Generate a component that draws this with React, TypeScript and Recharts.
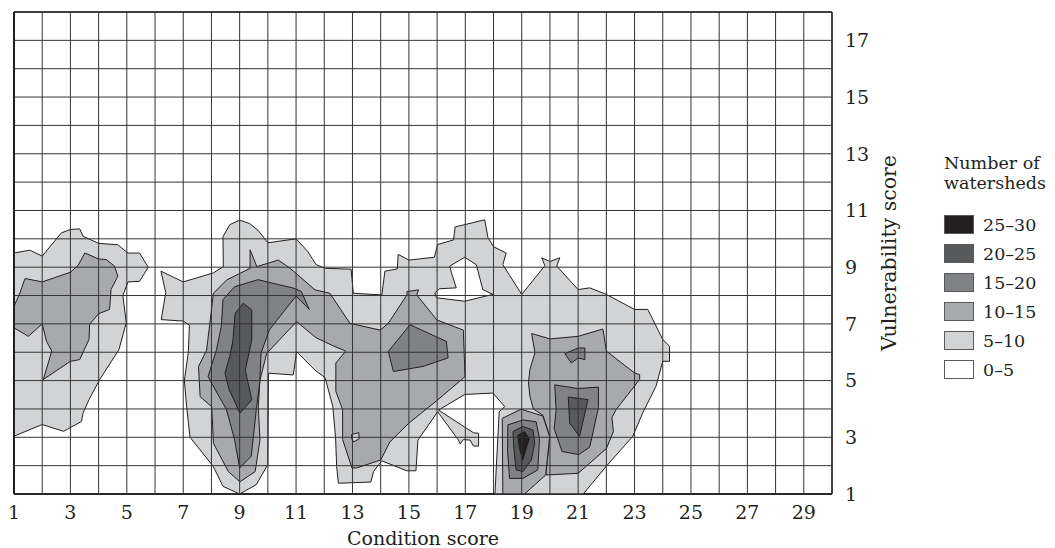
import React from "react";
import {
  ScatterChart,
  Scatter,
  XAxis,
  YAxis,
  CartesianGrid,
  ReferenceLine,
} from "recharts";

type Pt = [number, number];

const X_TICKS = [1, 2, 3, 4, 5, 6, 7, 8, 9, 10, 11, 12, 13, 14, 15, 16, 17, 18, 19, 20, 21, 22, 23, 24, 25, 26, 27, 28, 29, 30];
const Y_TICKS = [1, 2, 3, 4, 5, 6, 7, 8, 9, 10, 11, 12, 13, 14, 15, 16, 17, 18];

const LEVEL_LABELS = ["25–30", "20–25", "15–20", "10–15", "5–10", "0–5"];
const LEVEL_COLORS = ["#231f20", "#58595b", "#808285", "#a7a9ac", "#d1d3d4", "#ffffff"];

// contour outlines, in (condition score, vulnerability score)
const leftLight: Pt[] = [
  [1, 9.5], [1.56, 9.6], [2, 9.39], [2.68, 10.21], [3, 10.33], [3.33, 10.35], [3.45, 10.09], [4, 9.84],
  [4.68, 9.79], [5.04, 9.5], [5.45, 9.5], [5.76, 9.0], [5.45, 8.5], [5.04, 8.48], [4.86, 8.0], [4.98, 7.04],
  [4.72, 6.09], [4.04, 5.04], [3.66, 4.33], [3.45, 3.86], [3.39, 3.56], [2.76, 3.21], [2, 3.45], [1, 3.04],
];
const leftMid: Pt[] = [
  [1, 7.62], [1.21, 8.09], [1.39, 8.6], [2, 8.48], [3, 8.82], [3.27, 9.06], [3.51, 9.5], [4, 9.29],
  [4.27, 9.27], [4.56, 9.04], [4.68, 8.68], [4.44, 8.21], [4.39, 7.51], [4, 7.36], [3.68, 6.98], [3.66, 6.45],
  [3.33, 5.74], [3, 5.68], [2.04, 5.04], [2.34, 6.04], [2.15, 6.39], [2, 7.0], [1.51, 6.56], [1, 6.86],
];
const mainLight: Pt[] = [
  [6.22, 7.15], [6.38, 8.1], [6.21, 8.86], [7.0, 8.48], [8.07, 8.8], [8.42, 9.02], [8.41, 10.08], [8.65, 10.5],
  [9.0, 10.66], [9.35, 10.54], [9.65, 10.3], [10.0, 9.86], [11.0, 10.0], [11.41, 9.56], [11.71, 9.09],
  [12.03, 8.96], [12.95, 8.93], [13.03, 8.08], [14.04, 8.02], [14.15, 8.86], [14.59, 8.94], [14.62, 9.45],
  [15.0, 9.25], [15.9, 9.35], [16.02, 9.8], [16.58, 9.96], [16.64, 10.42], [17.69, 10.67], [17.8, 10.05],
  [18.0, 9.72], [18.45, 9.5], [18.33, 9.09], [19.0, 8.04], [19.82, 9.05], [19.71, 9.33], [20.0, 9.2],
  [20.35, 9.33], [20.24, 9.04], [21.0, 8.21], [21.41, 8.27], [22.0, 8.04], [23.0, 7.51], [23.47, 7.51],
  [24.0, 6.45], [24.24, 6.21], [24.24, 5.68], [24.0, 5.68], [23.76, 4.8], [23.29, 3.86], [22.94, 3.04],
  [22.0, 1.98], [21.18, 1.0], [18.05, 1.0], [18.2, 3.9], [18.4, 4.08], [17.98, 4.56], [16.98, 4.51],
  [16.05, 3.96], [17.29, 3.16], [17.47, 3.14], [17.47, 2.69], [17.29, 2.69], [17.17, 2.9], [16.93, 2.92],
  [16.82, 2.76], [16.76, 2.9], [16.02, 3.9], [15.32, 2.9], [15.25, 1.82], [14.92, 1.82], [14.04, 2.17],
  [13.75, 1.8], [13.65, 1.42], [12.5, 1.38], [12.44, 1.96], [12.4, 3.0], [12.3, 4.1], [12.03, 5.1],
  [11.67, 5.37], [11.02, 6.02], [10.9, 5.2], [10.02, 5.26], [10.0, 2.04], [9.59, 1.33], [9.0, 1.0],
  [8.41, 1.27], [8.06, 1.98], [7.24, 3.0], [7.12, 4.08], [7.04, 5.0], [7.18, 6.0], [7.22, 6.95], [7.0, 7.1],
];
const hole17: Pt[] = [
  [16.45, 9.04], [16.98, 9.35], [17.39, 9.09], [17.62, 8.21], [17.98, 8.04], [16.98, 7.8], [15.98, 7.92],
  [15.92, 8.09], [16.09, 8.24], [16.68, 8.27], [16.51, 8.8],
];
const midMid: Pt[] = [
  [9.01, 1.43], [8.6, 1.79], [8.07, 2.79], [8.01, 4.08], [7.6, 4.43], [7.54, 5.49], [7.83, 6.08], [8.07, 8.08],
  [8.54, 8.55], [9.37, 8.96], [9.37, 9.61], [9.61, 9.02], [10.37, 9.25], [10.79, 8.96], [11.67, 8.2],
  [12.2, 8.08], [12.91, 7.02], [13.98, 6.78], [14.27, 7.02], [14.93, 8.02], [14.93, 8.14], [15.34, 8.2],
  [15.28, 8.02], [15.99, 7.14], [16.93, 6.78], [16.99, 5.14], [16.0, 4.3], [15.0, 3.5], [14.33, 2.84],
  [14.0, 2.2], [13.15, 1.92], [12.98, 1.92], [12.65, 2.92], [12.65, 3.98], [12.41, 4.62], [12.41, 5.62],
  [12.76, 6.04], [12.35, 6.21], [11.71, 6.51], [11.02, 7.08], [9.96, 5.96], [9.72, 5.02], [9.66, 4.08],
  [9.72, 2.9], [9.55, 1.79],
];
const spot13: Pt[] = [[12.97, 3.1], [13.22, 3.16], [13.24, 2.95], [13.05, 2.84], [12.97, 2.95]];
const nine15: Pt[] = [
  [9.0, 1.92], [9.41, 2.33], [9.59, 3.98], [9.71, 4.92], [9.76, 5.98], [10.06, 6.8], [11.0, 7.98],
  [11.47, 7.51], [11.18, 8.15], [10.88, 8.27], [10.35, 8.39], [9.65, 8.56], [8.82, 8.31], [8.41, 7.86],
  [8.35, 6.92], [8.18, 6.09], [7.88, 5.15], [8.0, 4.92], [8.53, 3.98], [8.82, 2.92],
];
const nine20: Pt[] = [
  [9.13, 7.73], [9.43, 7.49], [9.43, 6.43], [9.2, 5.37], [9.43, 4.32], [9.01, 3.85], [8.62, 4.7],
  [8.48, 5.26], [8.66, 5.9], [8.76, 6.4], [8.84, 7.37],
];
const fifteen15: Pt[] = [[14.27, 6.03], [15.04, 6.97], [16.33, 6.38], [16.39, 5.8], [15.5, 5.5], [14.45, 5.32]];
const rightMid: Pt[] = [
  [19.35, 6.66], [20.0, 6.47], [21.0, 6.56], [21.88, 6.82], [22.0, 6.04], [23.0, 5.27], [23.18, 5.21],
  [23.18, 5.04], [22.35, 3.98], [22.2, 3.7], [22.25, 3.2], [22.0, 2.6], [21.0, 1.73], [19.85, 1.67],
  [20.0, 3.02], [19.75, 3.78], [19.41, 4.0], [19.29, 4.45], [19.24, 4.92], [19.29, 5.39], [19.47, 5.98],
];
const nineteen10: Pt[] = [[18.33, 1.0], [18.31, 3.67], [18.98, 3.99], [19.75, 3.75], [19.99, 3.02], [19.85, 1.67], [19.1, 1.0]];
const nineteen15: Pt[] = [[18.51, 3.44], [19.04, 3.61], [19.51, 3.55], [19.63, 2.96], [19.57, 1.85], [19.04, 1.55], [18.57, 1.55], [18.5, 2.5]];
const nineteen20: Pt[] = [[18.69, 3.2], [19.04, 3.38], [19.4, 3.26], [19.46, 2.79], [19.34, 2.2], [19.04, 1.79], [18.8, 1.85], [18.72, 2.6]];
const nineteen25: Pt[] = [[18.86, 3.08], [19.1, 3.2], [19.28, 2.96], [19.16, 2.61], [19.04, 2.2], [18.92, 2.61]];
const twentyOne15: Pt[] = [
  [20.17, 4.85], [20.99, 4.72], [21.72, 4.77], [21.72, 4.05], [21.41, 2.65], [21.02, 2.39], [20.43, 2.5],
  [20.15, 3.3], [20.22, 3.96],
];
const twentyOne20: Pt[] = [[20.65, 4.42], [21.35, 4.33], [21.05, 3.03], [20.7, 3.5]];
const twentyOneSpot: Pt[] = [[20.53, 5.95], [21.0, 6.15], [21.24, 6.15], [21.24, 5.74], [21.0, 5.8], [20.76, 5.62]];

// drawing order, with the level index of each fill
const SHAPES: { pts: Pt[]; level: number }[] = [
  { pts: leftLight, level: 4 },
  { pts: leftMid, level: 3 },
  { pts: mainLight, level: 4 },
  { pts: hole17, level: 5 },
  { pts: midMid, level: 3 },
  { pts: spot13, level: 4 },
  { pts: nine15, level: 2 },
  { pts: nine20, level: 1 },
  { pts: fifteen15, level: 2 },
  { pts: rightMid, level: 3 },
  { pts: nineteen10, level: 3 },
  { pts: nineteen15, level: 2 },
  { pts: nineteen20, level: 1 },
  { pts: nineteen25, level: 0 },
  { pts: twentyOne15, level: 2 },
  { pts: twentyOne20, level: 1 },
  { pts: twentyOneSpot, level: 2 },
];

const INK = "#231f20";
const FONT = 19;

const closed = (pts: Pt[]) => [...pts, pts[0]].map(([x, y]) => ({ x, y }));
const oddOnly = (v: number) => (v % 2 === 1 ? String(v) : "");

export default function App() {
  return (
    <div
      style={{
        position: "relative",
        width: 1039,
        height: 540,
        fontFamily: '"DejaVu Serif", serif',
        color: INK,
      }}
    >
      <ScatterChart width={1039} height={540} margin={{ top: 4, right: 140, bottom: 0, left: 6 }}>
        <XAxis
          type="number"
          dataKey="x"
          domain={[1, 30]}
          ticks={X_TICKS}
          interval={0}
          tickFormatter={oddOnly}
          tickLine={false}
          tickSize={0}
          tickMargin={12}
          height={54}
          axisLine={{ stroke: INK, strokeWidth: 2 }}
          tick={{ fill: INK, fontSize: FONT }}
          label={{ value: "Condition score", position: "insideBottom", offset: 3, fill: INK, fontSize: FONT }}
        />
        <YAxis
          type="number"
          dataKey="y"
          orientation="right"
          domain={[1, 18]}
          ticks={Y_TICKS}
          interval={0}
          tickFormatter={oddOnly}
          tickLine={false}
          tickSize={0}
          tickMargin={13}
          width={75}
          axisLine={{ stroke: INK, strokeWidth: 1.5 }}
          tick={{ fill: INK, fontSize: FONT, textAnchor: "start" }}
          label={{ value: "Vulnerability score", angle: -90, position: "center", dx: 19, fill: INK, fontSize: 20.5 }}
        />

        {SHAPES.map((s, i) => (
          <Scatter
            key={i}
            data={closed(s.pts)}
            isAnimationActive={false}
            legendType="none"
            line={{ fill: LEVEL_COLORS[s.level], stroke: INK, strokeWidth: 1, strokeLinejoin: "round" }}
            lineJointType="linear"
            shape={() => <g />}
          />
        ))}

        <CartesianGrid stroke="#333" strokeWidth={1} zIndex={900} />
        <ReferenceLine x={1} stroke={INK} strokeWidth={2} zIndex={901} />
        <ReferenceLine y={18} stroke={INK} strokeWidth={1.5} zIndex={901} />
      </ScatterChart>

      <div
        style={{
          position: "absolute",
          left: 936,
          top: 145,
          fontSize: 17.5,
          lineHeight: "20px",
          whiteSpace: "nowrap",
        }}
      >
        <div>Number of</div>
        <div>watersheds</div>
        <div style={{ marginTop: 17 }}>
          {LEVEL_LABELS.map((lab, i) => (
            <div key={lab} style={{ display: "flex", alignItems: "center", height: 29 }}>
              <div
                style={{
                  width: 30,
                  height: 19,
                  boxSizing: "border-box",
                  background: LEVEL_COLORS[i],
                  border: "1px solid #58595b",
                  marginRight: 9,
                }}
              />
              <span>{lab}</span>
            </div>
          ))}
        </div>
      </div>
    </div>
  );
}
